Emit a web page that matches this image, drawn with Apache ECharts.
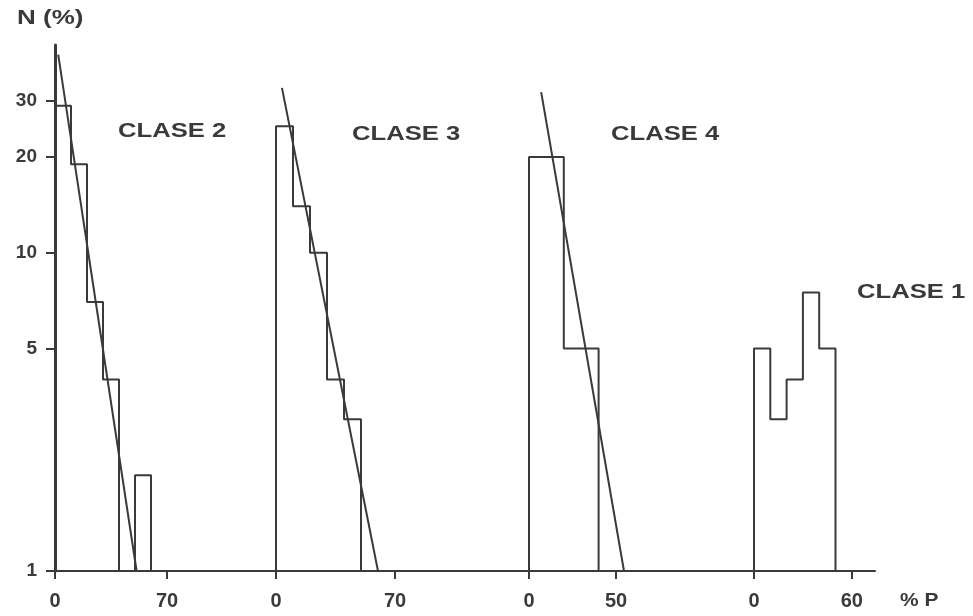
<!DOCTYPE html>
<html><head><meta charset="utf-8">
<script src="https://cdn.jsdelivr.net/npm/echarts@6/dist/echarts.min.js"></script>
<style>html,body{margin:0;padding:0;background:#fff}#c{width:973px;height:616px}</style>
</head><body><div id="c"></div>
<script>
// ---- Data ----
const classNames = ['CLASE 2', 'CLASE 3', 'CLASE 4', 'CLASE 1'];
const binEdgesClase2 = [0, 10, 20, 30, 40, 50, 60];
const countsClase2   = [29, 19, 7, 4, 1, 2];
const binEdgesClase3 = [0, 10, 20, 30, 40, 50];
const countsClase3   = [25, 14, 10, 4, 3];
const binEdgesClase4 = [0, 20, 40];
const countsClase4   = [20, 5];
const binEdgesClase1 = [0, 10, 20, 30, 40, 50];
const countsClase1   = [5, 3, 4, 7.5, 5];
const fitClase2 = [[2, 42], [51, 1]];
const fitClase3 = [[3.5, 33], [60, 1]];
const fitClase4 = [[7, 32], [54.6, 1]];
const xTickLabels = [[0, 70], [0, 70], [0, 50], [0, 60]];
const yTickLabels = [1, 5, 10, 20, 30];
const yMin = 1, yMax = 45;

// ---- Layout ----
const panels = [
  { zero: 55,  ppu: 1.6,  left: 48,  right: 225 },
  { zero: 276, ppu: 1.7,  left: 225, right: 455 },
  { zero: 529, ppu: 1.74, left: 455, right: 690 },
  { zero: 754, ppu: 1.63, left: 690, right: 875 }
];
const histEdges = [binEdgesClase2, binEdgesClase3, binEdgesClase4, binEdgesClase1];
const histCounts = [countsClase2, countsClase3, countsClase4, countsClase1];
const fits = [fitClase2, fitClase3, fitClase4, null];

const ink = '#3a3a3a';
const labelFont = 'Liberation Sans';

function outline(edges, counts) {
  const pts = [[edges[0], yMin]];
  counts.forEach((c, i) => pts.push([edges[i], c]));
  pts.push([edges[edges.length - 1], yMin]);
  return pts;
}

const grid = [], xAxis = [], yAxis = [], series = [];
panels.forEach((p, i) => {
  grid.push({ left: p.left, width: p.right - p.left, top: 45, height: 526, containLabel: false });
  xAxis.push({
    type: 'value', gridIndex: i,
    min: (p.left - p.zero) / p.ppu, max: (p.right - p.zero) / p.ppu,
    axisLine: { show: true, onZero: false, lineStyle: { color: ink, width: 2 } },
    axisTick: { show: true, customValues: xTickLabels[i], length: 8, lineStyle: { color: ink, width: 2 } },
    axisLabel: { show: true, customValues: xTickLabels[i], margin: 20, color: ink,
      fontFamily: labelFont, fontWeight: 'bold', fontSize: 20 },
    splitLine: { show: false }
  });
  yAxis.push({
    type: 'log', logBase: 10, gridIndex: i, min: yMin, max: yMax,
    show: i === 0,
    axisLine: { show: true, onZero: true, lineStyle: { color: ink, width: 3 } },
    axisTick: { show: true, customValues: yTickLabels, length: 9, lineStyle: { color: ink, width: 2 } },
    axisLabel: { show: true, customValues: yTickLabels, margin: 11, color: ink,
      fontFamily: labelFont, fontWeight: 'bold', fontSize: 19 },
    splitLine: { show: false }, minorTick: { show: false }
  });
  series.push({
    type: 'line', name: classNames[i], xAxisIndex: i, yAxisIndex: i,
    data: outline(histEdges[i], histCounts[i]), step: 'end',
    showSymbol: false, symbol: 'none', silent: true,
    lineStyle: { color: ink, width: 2 }
  });
  if (fits[i]) {
    series.push({
      type: 'line', xAxisIndex: i, yAxisIndex: i, data: fits[i],
      showSymbol: false, symbol: 'none', silent: true,
      lineStyle: { color: ink, width: 2 }
    });
  }
});

const textStyle = (t, size) => ({ text: t, fill: ink, font: 'bold ' + size + 'px "' + labelFont + '"', verticalAlign: 'middle', align: 'left' });
const graphic = [
  { type: 'text', x: 17, y: 18, scaleX: 1.3, style: textStyle('N (%)', 20) },
  { type: 'text', x: 118, y: 131, scaleX: 1.22, style: textStyle(classNames[0], 21) },
  { type: 'text', x: 352, y: 134, scaleX: 1.22, style: textStyle(classNames[1], 21) },
  { type: 'text', x: 611, y: 134, scaleX: 1.22, style: textStyle(classNames[2], 21) },
  { type: 'text', x: 857, y: 292, scaleX: 1.22, style: textStyle(classNames[3], 21) },
  { type: 'text', x: 900, y: 601, scaleX: 1.1, style: textStyle('% P', 19) }
];

const chart = echarts.init(document.getElementById('c'), null, { renderer: 'canvas' });
chart.setOption({
  backgroundColor: '#fff', animation: false,
  grid, xAxis, yAxis, series, graphic
});
</script></body></html>
